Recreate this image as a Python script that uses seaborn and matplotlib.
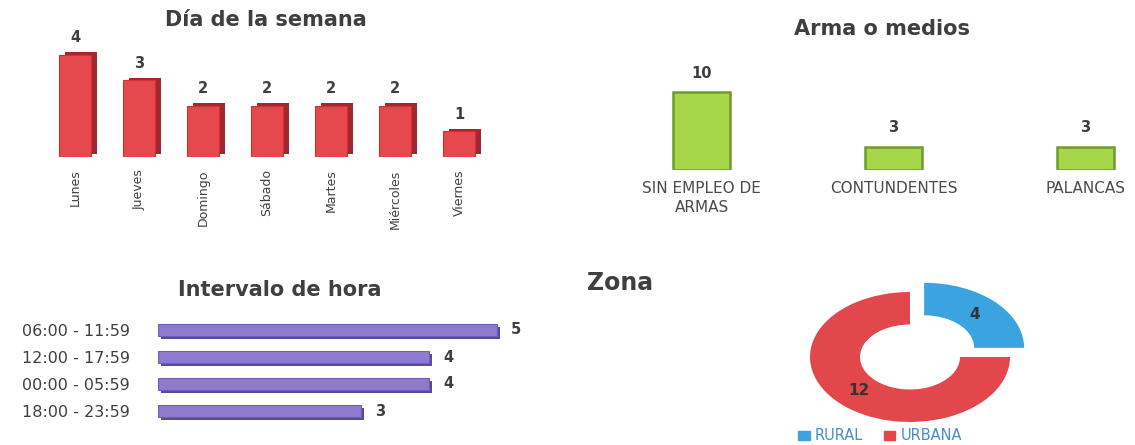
import matplotlib
matplotlib.use("Agg")
import matplotlib.pyplot as plt
import matplotlib.patheffects as pe
from matplotlib.patches import Patch
import seaborn as sns
import pandas as pd

# ---- data ----
dias = ["Lunes", "Jueves", "Domingo", "Sábado", "Martes", "Miércoles", "Viernes"]
dias_vals = [4, 3, 2, 2, 2, 2, 1]

armas = ["SIN EMPLEO DE\nARMAS", "CONTUNDENTES", "PALANCAS"]
armas_vals = [10, 3, 3]

horas = ["06:00 - 11:59", "12:00 - 17:59", "00:00 - 05:59", "18:00 - 23:59"]
horas_vals = [5, 4, 4, 3]

zonas = ["RURAL", "URBANA"]
zonas_vals = [4, 12]

sns.set_theme(style="white")
plt.rcParams["font.family"] = ["DejaVu Sans"]

W, H = 1135, 445
fig = plt.figure(figsize=(W / 100, H / 100), dpi=100)
fig.patch.set_facecolor("white")


def px_axes(x0, y0, x1, y1):
    return fig.add_axes([x0 / W, 1 - y1 / H, (x1 - x0) / W, (y1 - y0) / H])


TXT = "#3f3f3f"

# ---- Panel 1: Día de la semana ----
ax1 = px_axes(43, 29.5, 491, 157)
df1 = pd.DataFrame({"dia": dias, "n": dias_vals})
sns.barplot(data=df1, x="dia", y="n", color="#E5484D", saturation=1, width=0.5, ax=ax1)
for p in ax1.patches:
    p.set_path_effects([pe.SimplePatchShadow(offset=(4, 2), shadow_rgbFace="#A3282D", alpha=1), pe.Normal()])
    p.set_edgecolor("#C83338")
    p.set_linewidth(0.8)
ax1.bar_label(ax1.containers[0], padding=7, fontsize=10.5, fontweight="bold", color=TXT)
ax1.set_ylim(0, 5)
ax1.set_xlim(-0.5, 6.5)
ax1.set_xlabel("")
ax1.set_ylabel("")
ax1.set_yticks([])
ax1.tick_params(axis="x", length=0, pad=9)
for t in ax1.get_xticklabels():
    t.set_rotation(90)
    t.set_fontsize(9)
    t.set_color(TXT)
    t.set_va("top")
sns.despine(ax=ax1, left=True, bottom=True)
fig.text(266 / W, 1 - 20 / H, "Día de la semana", ha="center", va="center",
         fontsize=15, fontweight="bold", color=TXT)

# ---- Panel 2: Arma o medios ----
ax2 = px_axes(644, 76.4, 1143, 170)
df2 = pd.DataFrame({"arma": armas, "n": armas_vals})
sns.barplot(data=df2, x="arma", y="n", color="#A6D64A", saturation=1, width=0.3, ax=ax2)
for p in ax2.patches:
    p.set_edgecolor("#6F9A2C")
    p.set_linewidth(1.8)
ax2.bar_label(ax2.containers[0], padding=8, fontsize=10.5, fontweight="bold", color=TXT)
ax2.set_ylim(0, 12)
ax2.set_xlim(-0.3, 2.3)
ax2.set_xlabel("")
ax2.set_ylabel("")
ax2.set_yticks([])
ax2.tick_params(axis="x", length=0, pad=8)
for t in ax2.get_xticklabels():
    t.set_fontsize(11)
    t.set_color("#4a4a4a")
    t.set_linespacing(1.3)
sns.despine(ax=ax2, left=True, bottom=True)
fig.text(882 / W, 1 - 29 / H, "Arma o medios", ha="center", va="center",
         fontsize=15, fontweight="bold", color=TXT)

# ---- Panel 3: Intervalo de hora ----
ax3 = px_axes(158, 316.5, 564.8, 424.5)
df3 = pd.DataFrame({"hora": horas, "n": horas_vals})
sns.barplot(data=df3, x="n", y="hora", orient="h", color="#8E7BD0", saturation=1, width=0.46, ax=ax3)
for p in ax3.patches:
    p.set_path_effects([pe.SimplePatchShadow(offset=(2, -2), shadow_rgbFace="#5A4A9A", alpha=1), pe.Normal()])
    p.set_edgecolor("#6F5EB5")
    p.set_linewidth(0.8)
ax3.bar_label(ax3.containers[0], padding=10, fontsize=10.5, fontweight="bold", color=TXT)
ax3.set_xlim(0, 6)
ax3.set_ylim(3.5, -0.5)
ax3.set_xlabel("")
ax3.set_ylabel("")
ax3.set_xticks([])
ax3.tick_params(axis="y", length=0, pad=20)
for t in ax3.get_yticklabels():
    t.set_fontsize(11.5)
    t.set_color(TXT)
sns.despine(ax=ax3, left=True, bottom=True)
fig.text(280 / W, 1 - 290 / H, "Intervalo de hora", ha="center", va="center",
         fontsize=15, fontweight="bold", color=TXT)

# ---- Panel 4: Zona ----
ax4 = px_axes(790, 277, 1030, 437)
wedges, texts, autotexts = ax4.pie(
    zonas_vals, colors=["#3AA3E0", "#E2474C"], startangle=90, counterclock=False,
    explode=[0.2, 0], wedgeprops=dict(width=0.5, linewidth=0),
    autopct=lambda p: f"{round(p * sum(zonas_vals) / 100):d}", pctdistance=0.72,
    textprops=dict(fontsize=11, fontweight="bold", color="#333333"))
ax4.set_aspect("auto")
ax4.set_xlim(-1.2, 1.2)
ax4.set_ylim(-80 / 65, 80 / 65)
ax4.axis("off")
fig.text(587 / W, 1 - 283 / H, "Zona", ha="left", va="center",
         fontsize=17, fontweight="bold", color=TXT)
handles = [Patch(color="#3AA3E0"), Patch(color="#E2474C")]
leg = fig.legend(handles, zonas, loc="center", bbox_to_anchor=(880 / W, 1 - 436 / H),
                 ncol=2, frameon=False, fontsize=10.5, handlelength=0.8, handleheight=0.6,
                 handletextpad=0.35, columnspacing=1.4, borderpad=0)
for t in leg.get_texts():
    t.set_color("#4A8CC8")

fig.savefig("out.png", dpi=100, facecolor="white")
